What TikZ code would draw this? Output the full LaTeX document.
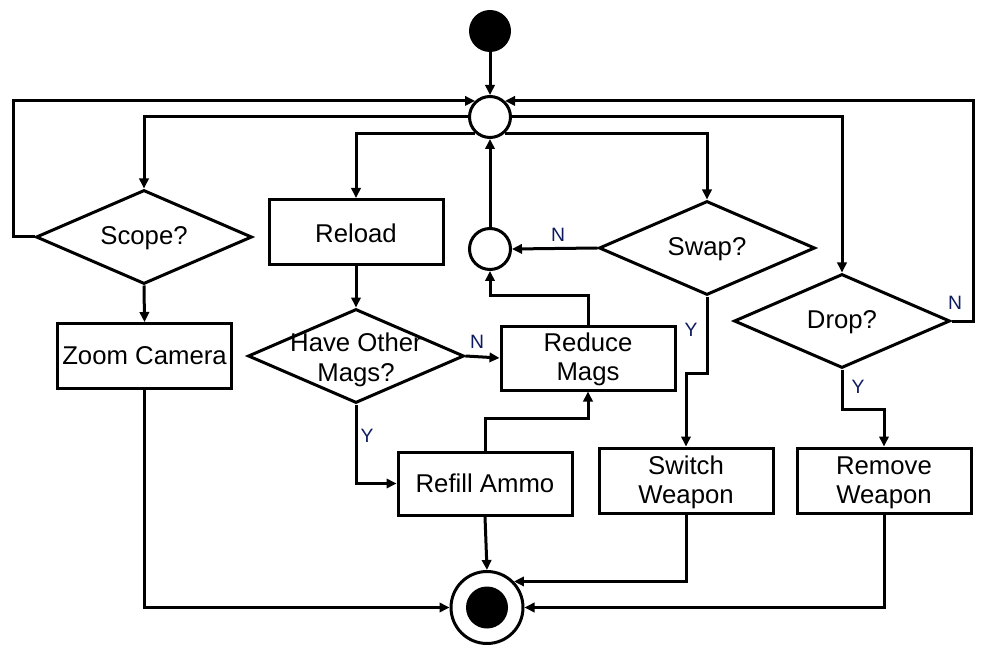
\documentclass[tikz,border=0pt]{standalone}
\usepackage{fontspec}
\setmainfont{Liberation Sans}
\usetikzlibrary{shapes.geometric,arrows.meta,calc}
\definecolor{lblblue}{HTML}{0D1B5E}
\def\px{0.75pt}
\newcommand{\dropby}[2]{\raisebox{-#1}[\height][\depth]{#2}}
\newcommand{\twoline}[2]{\dropby{1.8pt}{\begin{tabular}{@{}c@{}}#1\\#2\end{tabular}}}
\tikzset{
  box/.style={draw, line width=2.25pt, rectangle, minimum width={174*\px}, minimum height={65*\px}, inner sep=0pt, align=center,
    font=\fontsize{19.3}{22}\selectfont},
  dec/.style={draw, line width=2.25pt, diamond, minimum width={216*\px}, minimum height={94*\px}, inner sep=0pt},
  dectext/.style={font=\fontsize{19.3}{22}\selectfont, align=center, yshift=-1.2pt},
  junction/.style={draw, line width=2.25pt, circle, fill=white, minimum size={41*\px}, inner sep=0pt},
  conn/.style={line width=2.25pt, -{Triangle[length=7.5pt,width=7pt]}},
  yn/.style={text=lblblue, font=\fontsize{14.5}{16}\selectfont, inner sep=0pt}
}
\begin{document}
\begin{tikzpicture}[x=0.75pt,y=-0.75pt]
\useasboundingbox (0,0) rectangle (986,663);
% nodes
\node[circle, fill=black, minimum size={42*\px}, inner sep=0pt] (start) at (490,31) {};
\node[junction] (merge) at (490,117) {};
\node[junction] (small) at (490,249) {};
\node[dec, label={[dectext]center:Scope?}] (scope) at (144,237) {};
\node[dec, label={[dectext]center:Swap?}] (swap) at (707,248) {};
\node[dec, label={[dectext]center:Drop?}] (drop) at (842,321) {};
\node[dec, label={[dectext, yshift=-1.6pt]center:Have Other\\Mags?}] (have) at (356,356) {};
\node[box] (reload) at (356,232) {\dropby{0.8pt}{Reload}};
\node[box] (zoomcam) at (144.5,356) {Zoom Camera};
\node[box, minimum height={64*\px}] (reduce) at (588,358) {\twoline{Reduce}{Mags}};
\node[box, minimum height={63*\px}] (refill) at (485,483.5) {Refill Ammo};
\node[box] (switch) at (686,480.5) {\twoline{Switch}{Weapon}};
\node[box] (remove) at (884,480.5) {\twoline{Remove}{Weapon}};
\node[circle, draw, line width=2.25pt, minimum size={72*\px}, inner sep=0pt] (end) at (487,607.5) {};
\fill (end.center) circle[radius={21*\px}];
% connectors
\draw[conn] (start) -- (merge);
\draw[conn] (scope.west) -- (13,237) |- (merge.133);
\draw[conn] (drop.east) -- (973,321) |- (merge.47);
\draw[conn] (merge.west) -| (scope.north);
\draw[conn] (merge.227) -| (reload.north);
\draw[conn] (merge.313) -| (swap.north);
\draw[conn] (merge.east) -| (drop.north);
\draw[conn] (scope.south) -- (zoomcam.north);
\draw[conn] (zoomcam.south) |- (end.west);
\draw[conn] (reload.south) -- (have.north);
\draw[conn] (have.east) -- (reduce.west);
\draw[conn] (have.south) |- (refill.west);
\draw[conn] (refill.north) -- ++(0,-32) -| (reduce.south);
\draw[conn] (reduce.north) -- ++(0,-29) -| (small.south);
\draw[conn] (swap.west) -- (small.east);
\draw[conn] (small.north) -- (merge.south);
\draw[conn] (swap.south) -- ++(0,77) -| (switch.north);
\draw[conn] (drop.south) -- ++(0,40) -| (remove.north);
\draw[conn] (refill.south) -- (end.north);
\draw[conn] (switch.south) |- (end.44);
\draw[conn] (remove.south) |- (end.east);
% labels
\node[yn] (n1) at (558,235) {N};
\node[yn] (n2) at (477,342) {N};
\node[yn] (n3) at (955,303) {N};
\node[yn] (y1) at (367,436) {Y};
\node[yn] (y2) at (691,330) {Y};
\node[yn] (y3) at (858,387) {Y};
\end{tikzpicture}
\end{document}
